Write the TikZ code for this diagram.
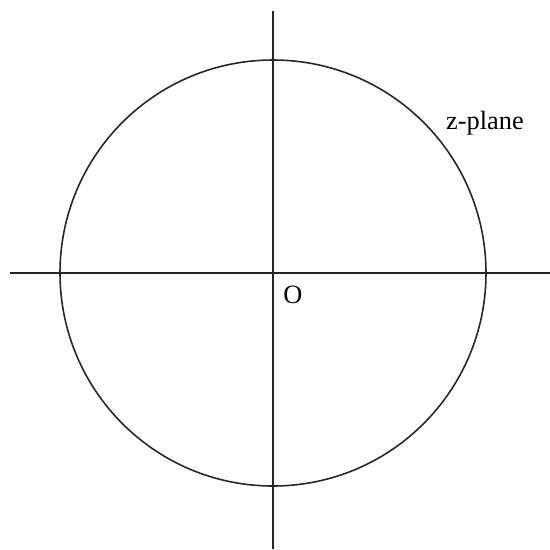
\documentclass[tikz,border=0pt]{standalone}
\usepackage{fontspec}
\setmainfont{Liberation Serif}
\usepackage{tikz}
\usetikzlibrary{positioning,calc}

\begin{document}
\begin{tikzpicture}[x=0.02cm,y=0.02cm,
  axisline/.style={draw,line width=0.9pt,black!85},
  every node/.style={font=\fontsize{15}{18}\selectfont,inner sep=1pt}]
\useasboundingbox (-273,-276) rectangle (277,273);
\coordinate (O) at (0,0);
\coordinate (xl) at (-263,0);
\coordinate (xr) at (277,0);
\coordinate (yt) at (0,262);
\coordinate (yb) at (0,-276);
\draw[axisline] (xl) -- (xr);
\draw[axisline] (yt) -- (yb);
\draw[line width=0.9pt,black!85] (O) circle[radius=213];
\node (olabel) at (20,-22) {O};
\node (plane) at (212,150) {z-plane};
\end{tikzpicture}
\end{document}
